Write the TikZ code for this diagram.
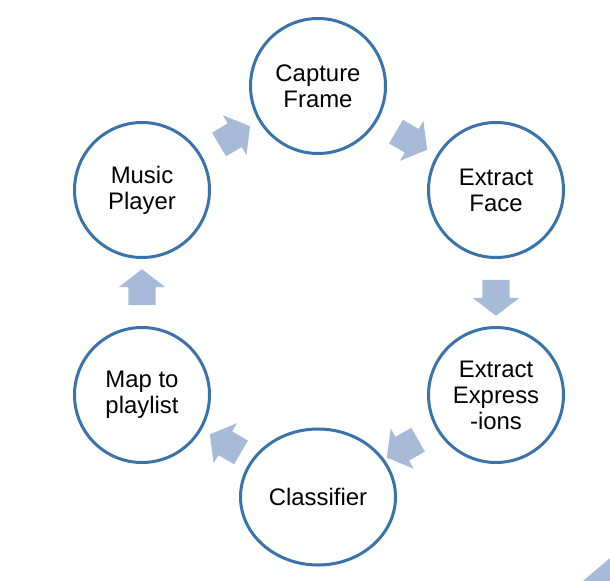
\documentclass[tikz,border=0pt]{standalone}
\usepackage{fontspec}
\setmainfont{Liberation Sans}
\usetikzlibrary{shapes.geometric, shapes.arrows}
\definecolor{ringblue}{RGB}{58,115,170}
\definecolor{arrowblue}{RGB}{167,187,216}

\begin{document}
\begin{tikzpicture}[x=1bp,y=-1bp,
      stage/.style={circle,draw=ringblue,line width=3bp,minimum size=135bp,inner sep=0pt,
        align=center,font=\fontsize{24}{26}\selectfont},
      flow/.style={single arrow,fill=arrowblue,draw=none,sloped,allow upside down,
        minimum height=36bp,single arrow head extend=9.5bp,single arrow tip angle=105,
        inner xsep=0pt,inner ysep=13.5bp}]
      \useasboundingbox (0,0) rectangle (610,581);
      \node[stage] (capture) at (318,86) {Capture\\Frame};
      \node[stage] (face) at (496,190) {Extract\\Face};
      \node[stage] (expr) at (496,395) {Extract\\Express\\-ions};
      \node[stage, ellipse, minimum width=155bp, minimum height=136bp] (classifier) at (318,497) {Classifier};
      \node[stage] (playlist) at (142,395) {Map to\\playlist};
      \node[stage] (music) at (142,190) {Music\\Player};
      \path (music.center) -- node[flow] {} (capture.center)
      (capture.center) -- node[flow] {} (face.center)
      (face.center) -- node[flow] {} (expr.center)
      (expr.center) -- node[flow] {} (classifier.center)
      (classifier.center) -- node[flow] {} (playlist.center)
      (playlist.center) -- node[flow] {} (music.center);
      \fill[arrowblue] (583,581) -- (610,558) -- (610,581) -- cycle;
    \end{tikzpicture}
\end{document}
